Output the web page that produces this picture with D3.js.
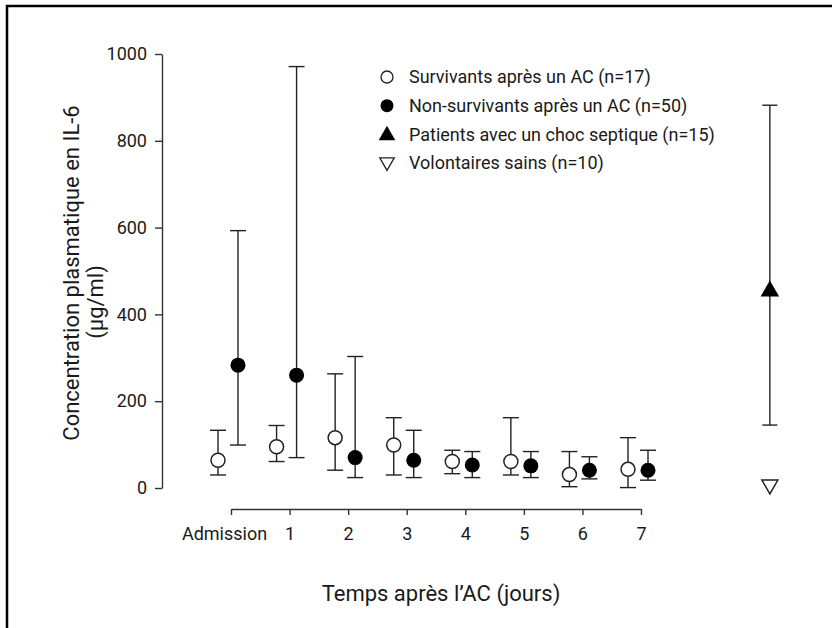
<!DOCTYPE html>
<html>
<head>
<meta charset="utf-8">
<script src="https://cdn.jsdelivr.net/npm/d3@7"></script>
<style>
  body { margin: 0; background: #fff; }
  svg text { font-family: Roboto, "Noto Sans", sans-serif; fill: #1a1a1a; }
</style>
</head>
<body>
<script>
// data
var days = [0, 1, 2, 3, 4, 5, 6, 7];
var dayLabels = ["Admission", "1", "2", "3", "4", "5", "6", "7"];
var survMed  = [64, 95, 116, 99, 61, 61, 31, 43];
var survLow  = [30, 61, 41, 30, 33, 30, 3, 1];
var survHigh = [133, 144, 263, 162, 87, 162, 84, 116];
var nonMed  = [283, 260, 70, 64, 53, 51, 41, 41];
var nonLow  = [99, 70, 24, 24, 24, 24, 21, 18];
var nonHigh = [593, 971, 303, 133, 84, 84, 72, 87];
var septicDay = 9.2, septicMed = 458, septicLow = 145, septicHigh = 882;
var volDay = 9.2, volMed = 3;
var yTicks = [0, 200, 400, 600, 800, 1000];
var legendLabels = ["Survivants après un AC (n=17)", "Non-survivants après un AC (n=50)",
                    "Patients avec un choc septique (n=15)", "Volontaires sains (n=10)"];

var width = 832, height = 628;
var svg = d3.select("body").append("svg").attr("width", width).attr("height", height);

// frame
svg.append("rect").attr("x", 7).attr("y", 6).attr("width", 900).attr("height", 700)
    .attr("fill", "none").attr("stroke", "#000").attr("stroke-width", 2.5);

var x = d3.scaleLinear().domain([0, 7]).range([231, 641]);
var y = d3.scaleLinear().domain([0, 1000]).range([488, 54]);

// y axis
var yAxis = svg.append("g").attr("transform", "translate(162,0)")
    .call(d3.axisLeft(y).tickValues(yTicks).tickFormat(d3.format("d"))
        .tickSize(7).tickSizeOuter(0).tickPadding(8));
yAxis.selectAll("text").style("font-size", "18px");
yAxis.selectAll("line, path").attr("stroke", "#333").attr("stroke-width", 1.4);

// x axis
var xAxis = svg.append("g").attr("transform", "translate(0,509)")
    .call(d3.axisBottom(x).tickValues(days).tickFormat(function (d, i) { return dayLabels[i]; })
        .tickSize(6).tickSizeOuter(0).tickPadding(12));
xAxis.selectAll("text").style("font-size", "18px")
    .attr("dx", function (d) { return d === 0 ? -7 : 0; });
xAxis.selectAll("line, path").attr("stroke", "#333").attr("stroke-width", 1.4);

// axis titles
svg.append("text").attr("transform", "translate(79,273) rotate(-90)")
    .attr("text-anchor", "middle").style("font-size", "22px")
    .text("Concentration plasmatique en IL-6");
svg.append("text").attr("transform", "translate(103,302) rotate(-90)")
    .attr("text-anchor", "middle").style("font-size", "22px")
    .text("(µg/ml)");
svg.append("text").attr("x", 441).attr("y", 601)
    .attr("text-anchor", "middle").style("font-size", "22px")
    .text("Temps après l\u2019AC (jours)");

function errBar(g, cx, lo, hi, cap) {
    g.append("line").attr("x1", cx).attr("x2", cx).attr("y1", y(lo)).attr("y2", y(hi))
        .attr("stroke", "#222").attr("stroke-width", 1.4);
    [lo, hi].forEach(function (v) {
        g.append("line").attr("x1", cx - cap).attr("x2", cx + cap).attr("y1", y(v)).attr("y2", y(v))
            .attr("stroke", "#222").attr("stroke-width", 1.4);
    });
}

var marks = svg.append("g");
var shift = -3, half = 10;

days.forEach(function (d, i) {
    errBar(marks, x(d) + shift - half, survLow[i], survHigh[i], 8);
    errBar(marks, x(d) + shift + half, nonLow[i], nonHigh[i], 8);
});
days.forEach(function (d, i) {
    marks.append("circle").attr("cx", x(d) + shift - half).attr("cy", y(survMed[i])).attr("r", 7)
        .attr("fill", "#fff").attr("stroke", "#222").attr("stroke-width", 1.5);
    marks.append("circle").attr("cx", x(d) + shift + half).attr("cy", y(nonMed[i])).attr("r", 7.5)
        .attr("fill", "#000");
});

// septic shock and volunteers
errBar(marks, x(septicDay), septicLow, septicHigh, 7.5);
var triUp = d3.symbol().type(d3.symbolTriangle).size(150);
marks.append("path").attr("d", triUp())
    .attr("transform", "translate(" + x(septicDay) + "," + (y(septicMed) + 2) + ")")
    .attr("fill", "#000");
marks.append("path").attr("d", triUp.size(110)())
    .attr("transform", "translate(" + x(volDay) + "," + (y(volMed) - 2) + ") rotate(180)")
    .attr("fill", "#fff").attr("stroke", "#222").attr("stroke-width", 1.5);

// legend
var leg = svg.append("g").attr("transform", "translate(387,77)");
legendLabels.forEach(function (t, i) {
    var g = leg.append("g").attr("transform", "translate(0," + (i * 28.7) + ")");
    if (i === 0) g.append("circle").attr("r", 6).attr("fill", "#fff").attr("stroke", "#222").attr("stroke-width", 1.3);
    if (i === 1) g.append("circle").attr("r", 6.5).attr("fill", "#000");
    if (i === 2) g.append("path").attr("d", d3.symbol().type(d3.symbolTriangle).size(120)()).attr("transform", "translate(0,1)").attr("fill", "#000");
    if (i === 3) g.append("path").attr("d", d3.symbol().type(d3.symbolTriangle).size(90)())
        .attr("transform", "translate(0,-1) rotate(180)").attr("fill", "#fff").attr("stroke", "#222").attr("stroke-width", 1.3);
    g.append("text").attr("x", 22).attr("dy", "0.35em").style("font-size", "18px").text(t);
});
</script>
</body>
</html>
